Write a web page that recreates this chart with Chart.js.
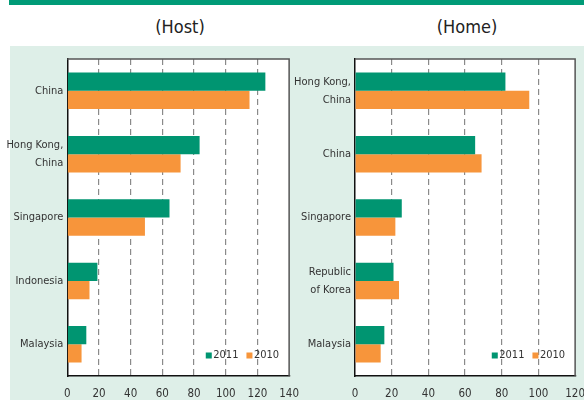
<!DOCTYPE html>
<html>
<head>
<meta charset="utf-8">
<script src="https://cdn.jsdelivr.net/npm/chart.js@4"></script>
<style>
  html, body { margin: 0; padding: 0; }
  body { width: 584px; height: 400px; overflow: hidden; position: relative; background: #fff;
         font-family: "Liberation Sans Narrow", "DejaVu Sans Condensed", sans-serif; }
  #band { position: absolute; left: 9px; top: 0; width: 575px; height: 5px; background: #009b77; }
  #panel { position: absolute; left: 10px; top: 46px; right: 0; bottom: 0; background: #deefe8; }
  .ttl { position: absolute; top: 16px; width: 200px; text-align: center; font-size: 18px; color: #222; }
  canvas { position: absolute; top: 46px; }
</style>
</head>
<body>
<div id="band"></div>
<div id="panel"></div>
<div class="ttl" style="left:80px">(Host)</div>
<div class="ttl" style="left:367px">(Home)</div>
<canvas id="host" width="310" height="360" style="left:0"></canvas>
<canvas id="home" width="306" height="360" style="left:290px"></canvas>
<script>
// data
const hostCountries = ['China', ['Hong Kong,', 'China'], 'Singapore', 'Indonesia', 'Malaysia'];
const host2011 = [125, 83.5, 64.5, 19, 12];
const host2010 = [115, 71.5, 49, 14, 9];

const homeCountries = [['Hong Kong,', 'China'], 'China', 'Singapore', ['Republic', 'of Korea'], 'Malaysia'];
const home2011 = [82, 65.5, 25.5, 21, 16];
const home2010 = [95, 69, 22, 24, 14];

const years = ['2011', '2010'];
const hostTicksMax = 140;
const homeTicksMax = 120;

const GREEN = '#009571';
const ORANGE = '#f7953b';
const FONT = '"Liberation Sans Narrow", "DejaVu Sans Condensed", sans-serif';

// white plot area, top/right frame and the little legend inside the plot
const framePlugin = {
  id: 'frame',
  beforeDraw(chart) {
    const a = chart.chartArea, ctx = chart.ctx;
    ctx.save();
    ctx.fillStyle = '#fff';
    ctx.fillRect(a.left, a.top, a.right - a.left, a.bottom - a.top);
    ctx.restore();
  },
  afterDraw(chart) {
    const a = chart.chartArea, ctx = chart.ctx;
    ctx.save();
    ctx.strokeStyle = '#555';
    ctx.lineWidth = 1.5;
    ctx.beginPath();
    ctx.moveTo(a.left, a.top);
    ctx.lineTo(a.right, a.top);
    ctx.lineTo(a.right, a.bottom);
    ctx.stroke();

    // legend, right aligned near the bottom
    ctx.font = '11px ' + FONT;
    ctx.textBaseline = 'middle';
    const ds = chart.data.datasets;
    let x = a.right - 10;
    const y = a.bottom - 20.5;
    for (let i = ds.length - 1; i >= 0; i--) {
      const w = ctx.measureText(ds[i].label).width;
      x -= w;
      ctx.fillStyle = '#333';
      ctx.fillText(ds[i].label, x, y);
      x -= 7.5;
      ctx.fillStyle = ds[i].backgroundColor;
      ctx.fillRect(x, y - 3, 6, 6);
      x -= 8;
    }
    ctx.restore();
  }
};

function makeChart(id, labels, v2011, v2010, max, yWidth, padRight) {
  return new Chart(document.getElementById(id), {
    type: 'bar',
    data: {
      labels: labels,
      datasets: [
        { label: years[0], data: v2011, backgroundColor: GREEN },
        { label: years[1], data: v2010, backgroundColor: ORANGE }
      ]
    },
    options: {
      indexAxis: 'y',
      responsive: false,
      animation: false,
      layout: { padding: { top: 12.5, bottom: 0, left: 0, right: padRight } },
      datasets: { bar: { barPercentage: 1, categoryPercentage: 0.575 } },
      plugins: { legend: { display: false }, tooltip: { enabled: false } },
      scales: {
        x: {
          min: 0, max: max,
          ticks: { stepSize: 20, padding: 11, color: '#333', font: { family: FONT, size: 11.5 } },
          grid: {
            drawTicks: false,
            lineWidth: 1.2,
            color: c => (c.tick && (c.tick.value === 0 || c.tick.value === max)) ? 'rgba(0,0,0,0)' : '#8a8a8a'
          },
          border: { color: '#111', width: 1.5, dash: [6, 4] },
          afterFit(s) { s.height = 30; }
        },
        y: {
          ticks: { padding: 4, color: '#333', font: { family: FONT, size: 11, lineHeight: 1.65 } },
          grid: { display: false, drawTicks: false },
          border: { color: '#111', width: 1.5 },
          afterFit(s) { s.width = yWidth; }
        }
      }
    },
    plugins: [framePlugin]
  });
}

makeChart('host', hostCountries, host2011, host2010, hostTicksMax, 67.3, 17.7);
makeChart('home', homeCountries, home2011, home2010, homeTicksMax, 65, 16.7);
</script>
</body>
</html>
